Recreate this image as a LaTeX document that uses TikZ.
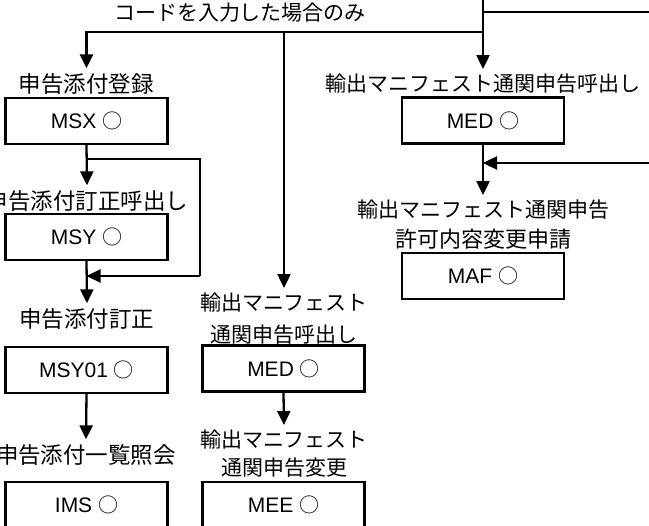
\documentclass[tikz,border=0pt]{standalone}
\usepackage{fontspec}
\newfontfamily\jfont{Noto Sans CJK JP}
\newfontfamily\lfont{Liberation Sans}
\usetikzlibrary{arrows.meta}
\newcommand{\mycirc}{{\jfont\fontsize{20}{20}\selectfont ○}}
\begin{document}
\begin{tikzpicture}[x=1pt,y=-1pt,
  line/.style={line width=2.3pt},
  arr/.style={line width=2.3pt,-{Triangle[length=14pt,width=13pt]}},
  lbl/.style={font=\jfont\fontsize{21}{30}\selectfont, inner xsep=0pt, inner ysep=5pt, align=center},
  lblk/.style={lbl, font=\jfont\fontsize{22.5}{30}\selectfont},
  box/.style={draw, line width=2.3pt, minimum width=162pt, minimum height=46pt, inner sep=0pt, font=\lfont\fontsize{21}{25}\selectfont}
]
\useasboundingbox (0,0) rectangle (649,526);
% top
\node[lbl] (top) at (240,13) {コードを入力した場合のみ};
\coordinate (topin) at (483,0);
\coordinate (rin1) at (649,12);
\coordinate (rin2) at (649,163);
\coordinate (j) at (483,32);
% left column
\node[lblk] (l1) at (86.5,84) {申告添付登録};
\node[box] (msx) at (86.5,121) {MSX \mycirc};
\node[lblk] (l2) at (87,201) {申告添付訂正呼出し};
\node[box] (msy) at (86.5,237) {MSY \mycirc};
\node[lblk] (l3) at (87,319) {申告添付訂正};
\node[box] (msy01) at (86.5,370) {MSY01 \mycirc};
\node[lblk] (l4) at (86,455) {申告添付一覧照会};
\node[box] (ims) at (86.5,505) {IMS \mycirc};
% middle column
\node[lbl] (m1) at (284,319) {輸出マニフェスト\\[2pt]通関申告呼出し};
\node[box] (medm) at (283.5,368.5) {MED \mycirc};
\node[lbl] (m2) at (284,454) {輸出マニフェスト\\[-2pt]通関申告変更};
\node[box] (mee) at (283.5,505) {MEE \mycirc};
% right column
\node[lbl] (r1) at (483,84) {輸出マニフェスト通関申告呼出し};
\node[box] (med) at (483,120.5) {MED \mycirc};
\node[lbl] (r2) at (483,225) {輸出マニフェスト通関申告\\{\fontsize{22}{30}\selectfont 許可内容変更申請}};
\node[box] (maf) at (483,276) {MAF \mycirc};
% connectors
\draw[arr] (topin) -- (r1.north);
\draw[line] (rin1) -- (rin1 -| topin);
\draw[arr] (j) -| (l1.north);
\draw[arr] (j -| m1.north) -- (m1.north);
\draw[arr] (msx.south) -- (l2.north);
\coordinate (lp1) at (200,159);
\coordinate (lp2) at (200,276);
\draw[line] (msx.south |- lp1) -- (lp1) -- (lp2);
\draw[arr] (lp2) -- (lp2 -| msy.south);
\draw[arr] (msy.south) -- (l3.north);
\draw[arr] (msy01.south) -- (l4.north);
\draw[arr] (medm.south) -- (m2.north);
\draw[arr] (med.south) -- (r2.north);
\draw[arr] (rin2) -- (rin2 -| med.south);
\end{tikzpicture}
\end{document}
